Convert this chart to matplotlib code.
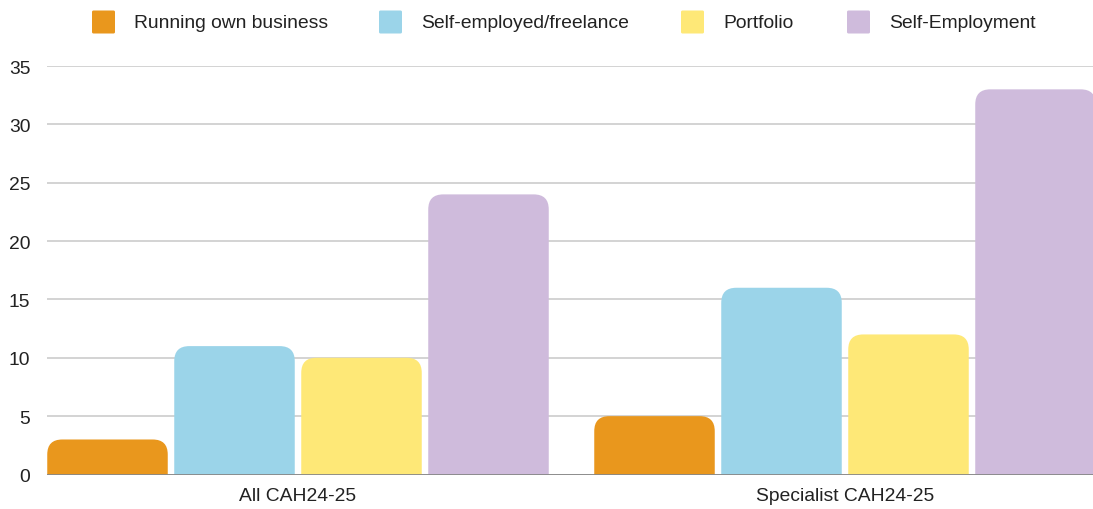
import matplotlib
matplotlib.use("Agg")
import matplotlib.pyplot as plt
from matplotlib.patches import FancyBboxPatch
import numpy as np

plt.rcParams['font.family'] = ['Liberation Sans', 'DejaVu Sans']

categories = ["All CAH24-25", "Specialist CAH24-25"]
series_names = ["Running own business", "Self-employed/freelance", "Portfolio", "Self-Employment"]
running_own_business = [3, 5]
self_employed_freelance = [11, 16]
portfolio = [10, 12]
self_employment = [24, 33]
y_ticks = [0, 5, 10, 15, 20, 25, 30, 35]

series_values = [running_own_business, self_employed_freelance, portfolio, self_employment]
colors = ["#E9971D", "#9BD4E9", "#FEE877", "#CFBBDC"]

W, H = 1093, 510
fig = plt.figure(figsize=(W / 100, H / 100), dpi=100)
ax_left, ax_bottom, ax_top = 47, 475.5, 67
ax = fig.add_axes([ax_left / W, (H - ax_bottom) / H, 1 - ax_left / W, (ax_bottom - ax_top) / H])

# group geometry in category units (one category = 547 px)
cat_px = 547.0
bar_w = 120.5 / cat_px
pitch = 127.0 / cat_px
x_left = -251.0 / cat_px
x_right = x_left + (W - ax_left) / cat_px
ax.set_xlim(x_left, x_right)
ax.set_ylim(0, 35)

fig.canvas.draw()
# pixels per data unit for rounded corners
px_x = ax.bbox.width / (x_right - x_left)
px_y = ax.bbox.height / 35.0
radius_px = 15
r_x = radius_px / px_x
aspect = px_x / px_y

offsets = (np.arange(len(series_names)) - 1.5) * pitch
for s, (vals, col) in enumerate(zip(series_values, colors)):
    for c, v in enumerate(vals):
        xc = c + offsets[s]
        x0 = xc - bar_w / 2
        y0 = -5.0  # extend below baseline so only top corners show rounded
        patch = FancyBboxPatch(
            (x0, y0), bar_w, v - y0,
            boxstyle=f"round,pad=0,rounding_size={r_x}",
            mutation_aspect=aspect,
            facecolor=col, edgecolor="none", zorder=2,
        )
        ax.add_patch(patch)

ax.set_yticks(y_ticks)
ax.set_yticklabels([str(t) for t in y_ticks])
ax.grid(axis="y", color="#CCCCCC", linewidth=1.2, zorder=0)
ax.set_axisbelow(True)
ax.axhline(0, color="#888888", linewidth=1.3, zorder=3)
for sp in ax.spines.values():
    sp.set_visible(False)
ax.tick_params(axis="y", length=0, pad=12, labelsize=13.85, labelcolor="#222222")
ax.tick_params(axis="x", length=0, pad=9, labelsize=13.85, labelcolor="#222222")
ax.set_xticks(range(len(categories)))
ax.set_xticklabels(categories)

# legend row
sq_left = [92, 379, 681, 847]
sq_size = 23
y_center = 23
for name, col, xl in zip(series_names, colors, sq_left):
    sq = FancyBboxPatch(
        (xl / W, 1 - (y_center + sq_size / 2) / H), sq_size / W, sq_size / H,
        boxstyle=f"round,pad=0,rounding_size={1.5 / W}", mutation_aspect=W / H,
        transform=fig.transFigure, facecolor=col, edgecolor="none",
    )
    fig.patches.append(sq)
    fig.text((xl + 42) / W, 1 - y_center / H, name, fontsize=13.85,
             color="#222222", va="center")

fig.savefig("out.png", dpi=100)
